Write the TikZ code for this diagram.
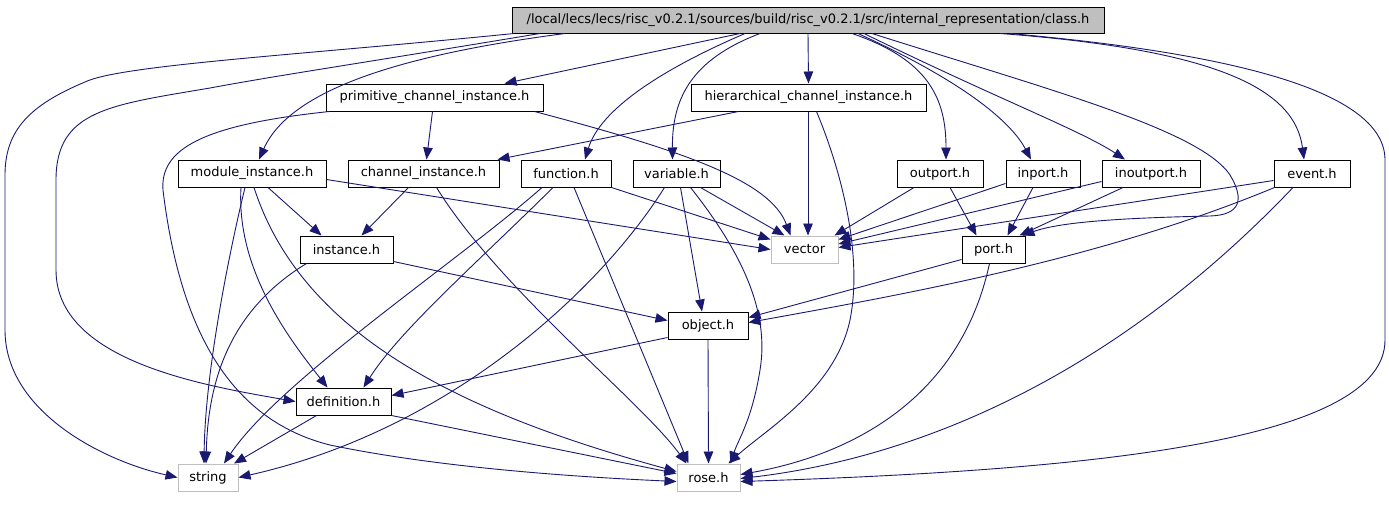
\documentclass[tikz,border=0pt]{standalone}
\usepackage{fontspec}
\setmainfont{DejaVu Sans}
\usetikzlibrary{arrows.meta}
\definecolor{edgec}{RGB}{25,25,112}
\definecolor{lgray}{RGB}{191,191,191}
\begin{document}
\begin{tikzpicture}[x=1pt,y=-1pt,
  box/.style={draw=black,line width=1pt,fill=white,minimum height=27pt,inner sep=0pt,font=\fontsize{13}{15}\selectfont},
  gbox/.style={box,draw=lgray},
  rootbox/.style={box,fill=lgray},
  edge/.style={draw=edgec,line width=0.9pt,-{Triangle[length=12pt,width=9.5pt]}}]
\useasboundingbox (0,0) rectangle (1389,504);
% nodes
\node[rootbox,minimum width=592pt,minimum height=26pt] (root) at (808,20) {/local/lecs/lecs/risc\_v0.2.1/sources/build/risc\_v0.2.1/src/internal\_representation/class.h};
\node[box,minimum width=217pt] (prim) at (434.5,97.5) {primitive\_channel\_instance.h};
\node[box,minimum width=235pt] (hier) at (808.5,97.5) {hierarchical\_channel\_instance.h};
\node[box,minimum width=148pt] (modi) at (252,173.5) {module\_instance.h};
\node[box,minimum width=151pt] (chan) at (423.5,173.5) {channel\_instance.h};
\node[box,minimum width=90pt] (func) at (566,173.5) {function.h};
\node[box,minimum width=87pt] (vari) at (676.5,173.5) {variable.h};
\node[box,minimum width=86pt] (outp) at (940,173.5) {outport.h};
\node[box,minimum width=74pt] (inp) at (1043,173.5) {inport.h};
\node[box,minimum width=98pt] (inout) at (1151,173.5) {inoutport.h};
\node[box,minimum width=76pt] (event) at (1312,173.5) {event.h};
\node[box,minimum width=93pt] (inst) at (346.5,249.5) {instance.h};
\node[gbox,minimum width=67pt] (vec) at (804.5,249.5) {vector};
\node[box,minimum width=63pt] (port) at (993.5,249.5) {port.h};
\node[box,minimum width=80pt] (obj) at (708,325.5) {object.h};
\node[box,minimum width=95pt] (defn) at (343.5,401.5) {definition.h};
\node[gbox,minimum width=60pt] (str) at (208,477.5) {string};
\node[gbox,minimum width=63pt] (rose) at (708.5,477.5) {rose.h};
% root edges
\draw[edge] ([xshift=-294pt]root.south) .. controls (300,55) and (120,65) .. (85,82) .. controls (30,105) and (5,130) .. (5,175) -- (5,330) .. controls (5,410) and (100,460) .. (str.west);
\draw[edge] ([xshift=-268pt]root.south) .. controls (350,65) and (280,75) .. (210,88) .. controls (110,105) and (56,110) .. (56,180) -- (56,270) .. controls (56,360) and (200,385) .. (defn.west);
\draw[edge] ([xshift=-243pt]root.south) .. controls (400,55) and (290,90) .. ([xshift=7pt]modi.north);
\draw[edge] ([xshift=-68pt]root.south) -- ([xshift=70pt]prim.north);
\draw[edge] ([xshift=-63pt]root.south) .. controls (660,70) and (600,110) .. ([xshift=19pt]func.north);
\draw[edge] ([xshift=-48pt]root.south) .. controls (690,60) and (672,100) .. ([xshift=-4pt]vari.north);
\draw[edge] (root.south) -- (hier.north);
\draw[edge] ([xshift=44pt]root.south) .. controls (930,60) and (946,100) .. ([xshift=6pt]outp.north);
\draw[edge] ([xshift=50pt]root.south) .. controls (960,80) and (1010,120) .. ([xshift=-12pt]inp.north);
\draw[edge] ([xshift=56pt]root.south) .. controls (1000,100) and (1080,130) .. ([xshift=-26pt]inout.north);
\draw[edge] ([xshift=64pt]root.south) .. controls (1050,90) and (1200,130) .. (1230,175) .. controls (1245,200) and (1240,215) .. (1210,216) .. controls (1120,218) and (1060,222) .. ([xshift=-3pt]port.north east);
\draw[edge] ([xshift=192pt]root.south) .. controls (1220,50) and (1295,90) .. ([xshift=-8pt]event.north);
\draw[edge] ([xshift=202pt]root.south) .. controls (1250,55) and (1385,95) .. (1385,160) -- (1385,340) .. controls (1385,440) and (1100,470) .. ([yshift=-4pt]rose.east);
% primitive
\draw[edge] ([xshift=-2pt]prim.south) -- ([xshift=3pt]chan.north);
\draw[edge] ([xshift=100pt]prim.south) .. controls (680,150) and (770,180) .. ([xshift=-14pt]vec.north);
\draw[edge] ([xshift=4pt]prim.south west) .. controls (200,125) and (160,150) .. (163,190) .. controls (180,330) and (230,420) .. (330,445) .. controls (450,470) and (600,478) .. ([yshift=-4pt]rose.west);
% hierarchical
\draw[edge] ([xshift=-70pt]hier.south) -- ([xshift=-2pt]chan.north east);
\draw[edge] ([xshift=-0.5pt]hier.south) -- ([xshift=3.5pt]vec.north);
\draw[edge] ([xshift=8pt]hier.south) .. controls (845,180) and (862,260) .. (850,320) .. controls (835,390) and (765,430) .. ([xshift=20pt]rose.north);
% module_instance
\draw[edge] ([yshift=-6pt]modi.east) -- (vec.west);
\draw[edge] ([xshift=16pt]modi.south) -- ([xshift=-25pt]inst.north);
\draw[edge] ([xshift=-11pt]modi.south) .. controls (236,270) and (290,340) .. ([xshift=-16pt]defn.north);
\draw[edge] ([xshift=-7pt]modi.south) .. controls (225,270) and (205,380) .. ([xshift=-4pt]str.north);
\draw[edge] ([xshift=2pt]modi.south) .. controls (300,330) and (450,410) .. ([yshift=6pt]rose.west);
% channel_instance
\draw[edge] ([xshift=-15pt]chan.south) -- ([xshift=15pt]inst.north);
\draw[edge] ([xshift=13pt]chan.south) .. controls (500,290) and (640,400) .. ([xshift=-22pt]rose.north);
% function
\draw[edge] ([xshift=-24pt]func.south) .. controls (460,260) and (280,380) .. ([xshift=16pt]str.north);
\draw[edge] ([xshift=-13pt]func.south) .. controls (480,260) and (400,330) .. ([xshift=20pt]defn.north);
\draw[edge] ([xshift=8pt]func.south) -- ([xshift=-20pt]rose.north);
\draw[edge] (func.south east) -- ([yshift=-4pt]vec.north west);
% variable
\draw[edge] ([xshift=-12pt]vari.south) .. controls (600,290) and (450,430) .. (str.east);
\draw[edge] ([xshift=4pt]vari.south) -- ([xshift=-6pt]obj.north);
\draw[edge] ([xshift=14pt]vari.south) .. controls (740,250) and (770,310) .. (760,370) .. controls (752,420) and (738,440) .. ([xshift=22pt]rose.north);
\draw[edge] ([xshift=24pt]vari.south) -- ([xshift=-20pt]vec.north);
% ports
\draw[edge] ([xshift=-26pt]outp.south) -- ([xshift=-4pt]vec.north east);
\draw[edge] ([xshift=10pt]outp.south) -- ([xshift=-17pt]port.north);
\draw[edge] ([yshift=4pt]inp.south west) -- ([yshift=-4pt]vec.north east);
\draw[edge] ([xshift=-10pt]inp.south) -- ([xshift=14pt]port.north);
\draw[edge] ([yshift=6pt]inout.south west) -- ([yshift=5.5pt]vec.east);
\draw[edge] ([xshift=-28pt]inout.south) -- ([xshift=-6pt]port.north east);
% event
\draw[edge] ([yshift=-7pt]event.west) -- ([yshift=2pt]vec.east);
\draw[edge] ([xshift=1pt]event.south west) .. controls (1100,260) and (900,295) .. ([yshift=3pt]obj.east);
\draw[edge] ([xshift=-19pt]event.south) .. controls (1100,390) and (900,460) .. ([yshift=-1pt]rose.east);
% instance
\draw[edge] ([yshift=2pt]inst.south east) -- ([yshift=5pt]obj.west);
\draw[edge] ([xshift=-40pt]inst.south) .. controls (230,310) and (208,380) .. ([xshift=-2pt]str.north);
% port
\draw[edge] ([yshift=-10pt]port.west) -- ([yshift=8pt]obj.east);
\draw[edge] ([xshift=-4pt]port.south) .. controls (960,400) and (850,455) .. ([yshift=3pt]rose.east);
% object
\draw[edge] ([yshift=2pt]obj.south west) -- ([yshift=6pt]defn.east);
\draw[edge] (obj.south) -- (rose.north);
% definition
\draw[edge] ([xshift=-27pt]defn.south) -- ([xshift=26pt]str.north);
\draw[edge] (defn.south east) -- ([yshift=4pt]rose.west);
\end{tikzpicture}
\end{document}
